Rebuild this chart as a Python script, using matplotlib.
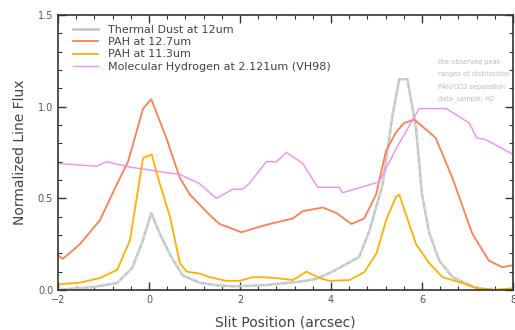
import matplotlib
matplotlib.use("Agg")
import matplotlib.pyplot as plt
from matplotlib.ticker import MultipleLocator

labels = ["Thermal Dust at 12um", "PAH at 12.7um", "PAH at 11.3um",
          "Molecular Hydrogen at 2.121um (VH98)"]

dust_x = [-2, -1.8, -1.23, -0.7, -0.37, -0.15, 0.05, 0.25, 0.49, 0.74, 1.11, 1.5, 1.85,
          2.58, 3.3, 3.67, 4.03, 4.4, 4.62, 4.84, 5.13, 5.35, 5.5, 5.68, 5.87, 6.0, 6.16,
          6.38, 6.67, 7.2, 7.6, 8.0]
dust_y = [0.0, 0.005, 0.016, 0.038, 0.12, 0.26, 0.42, 0.30, 0.18, 0.08, 0.04, 0.025, 0.02,
          0.027, 0.045, 0.06, 0.10, 0.15, 0.18, 0.32, 0.57, 0.95, 1.15, 1.15, 0.88, 0.52, 0.31,
          0.16, 0.07, 0.01, 0.0, 0.0]

pah127_x = [-2, -1.9, -1.75, -1.52, -1.08, -0.7, -0.46, -0.13, 0.05, 0.38, 0.68, 0.9, 1.33,
            1.55, 1.77, 2.03, 2.36, 2.65, 3.16, 3.38, 3.82, 4.12, 4.45, 4.73, 4.99, 5.21, 5.43,
            5.6, 5.83, 6.3, 6.67, 7.1, 7.47, 7.76, 8.0]
pah127_y = [0.19, 0.17, 0.20, 0.25, 0.38, 0.58, 0.70, 0.99, 1.04, 0.83, 0.61, 0.52, 0.41,
            0.36, 0.34, 0.315, 0.34, 0.36, 0.39, 0.43, 0.45, 0.42, 0.36, 0.39, 0.52, 0.76, 0.86,
            0.91, 0.93, 0.83, 0.61, 0.31, 0.16, 0.125, 0.135]

pah113_x = [-2, -1.52, -1.08, -0.7, -0.42, -0.13, 0.06, 0.2, 0.46, 0.68, 0.83, 1.11, 1.33,
            1.7, 1.99, 2.28, 2.43, 2.8, 3.16, 3.46, 3.75, 3.96, 4.4, 4.73, 5.0, 5.21, 5.43,
            5.5, 5.87, 6.16, 6.45, 6.82, 7.2, 7.6, 8.0]
pah113_y = [0.03, 0.04, 0.065, 0.11, 0.27, 0.72, 0.74, 0.61, 0.40, 0.145, 0.10, 0.09, 0.07,
            0.05, 0.05, 0.07, 0.07, 0.065, 0.054, 0.10, 0.065, 0.05, 0.054, 0.097, 0.20, 0.38,
            0.51, 0.52, 0.25, 0.146, 0.07, 0.043, 0.01, 0.0, 0.01]

h2_x = [-2, -1.15, -0.93, -0.42, -0.13, 0.39, 0.68, 1.11, 1.48, 1.84, 2.06, 2.2, 2.58, 2.8,
        3.02, 3.38, 3.71, 4.18, 4.25, 5.06, 5.43, 5.94, 6.53, 7.04, 7.2, 7.4, 8.0]
h2_y = [0.69, 0.675, 0.70, 0.67, 0.66, 0.64, 0.63, 0.58, 0.50, 0.55, 0.55, 0.58, 0.70, 0.70,
        0.75, 0.69, 0.56, 0.56, 0.53, 0.59, 0.77, 0.99, 0.99, 0.91, 0.83, 0.82, 0.74]

note_lines = ["the observed peak", "ranges of distribution", "PAH/CO3 separation",
              "data_sample: H2"]

fig = plt.figure(figsize=(5.15, 3.3), dpi=100)
ax = fig.add_axes([58/515, 40/330, 455/515, 275/330])

ax.plot(dust_x, dust_y, color="#c4c4c4", lw=1.8, label=labels[0])
ax.plot(dust_x, dust_y, color="#c8e4d8", lw=0.9, ls=(0, (3, 3)))
ax.plot(pah127_x, pah127_y, color="#ff7f55", lw=1.3, label=labels[1])
ax.plot(pah113_x, pah113_y, color="#ffb000", lw=1.3, label=labels[2])
ax.plot(h2_x, h2_y, color="#f08ef0", lw=1.0, label=labels[3])

ax.set_xlim(-2, 8)
ax.set_ylim(0, 1.5)
ax.xaxis.set_major_locator(MultipleLocator(2))
ax.xaxis.set_minor_locator(MultipleLocator(0.4))
ax.yaxis.set_major_locator(MultipleLocator(0.5))
ax.yaxis.set_minor_locator(MultipleLocator(0.1))
ax.tick_params(which="both", direction="in", top=True, right=True, labelsize=7,
               labelcolor="#555555", color="#333333")
ax.tick_params(which="major", length=6, width=1.0)
ax.tick_params(which="minor", length=3, width=0.8)
ax.set_yticks([0, 0.5, 1.0, 1.5])
ax.set_yticklabels(["0.0", "0.5", "1.0", "1.5"])
for s in ax.spines.values():
    s.set_linewidth(1.2)
    s.set_color("#333333")

ax.set_xlabel("Slit Position (arcsec)", fontsize=10, color="#444444", labelpad=8)
ax.set_ylabel("Normalized Line Flux", fontsize=10, color="#444444", labelpad=8)

ax.legend(loc="upper left", frameon=False, fontsize=8, handlelength=2.3,
          handletextpad=0.9, labelspacing=0.2, borderaxespad=0.5,
          bbox_to_anchor=(0.01, 1.0), labelcolor="#444444")

for i, t in enumerate(note_lines):
    ax.text(0.835, 0.83 - i * 0.045, t, transform=ax.transAxes, fontsize=4.8,
            color="#bbbbbb", va="center", ha="left", clip_on=False)

fig.savefig("out.png", dpi=100)
